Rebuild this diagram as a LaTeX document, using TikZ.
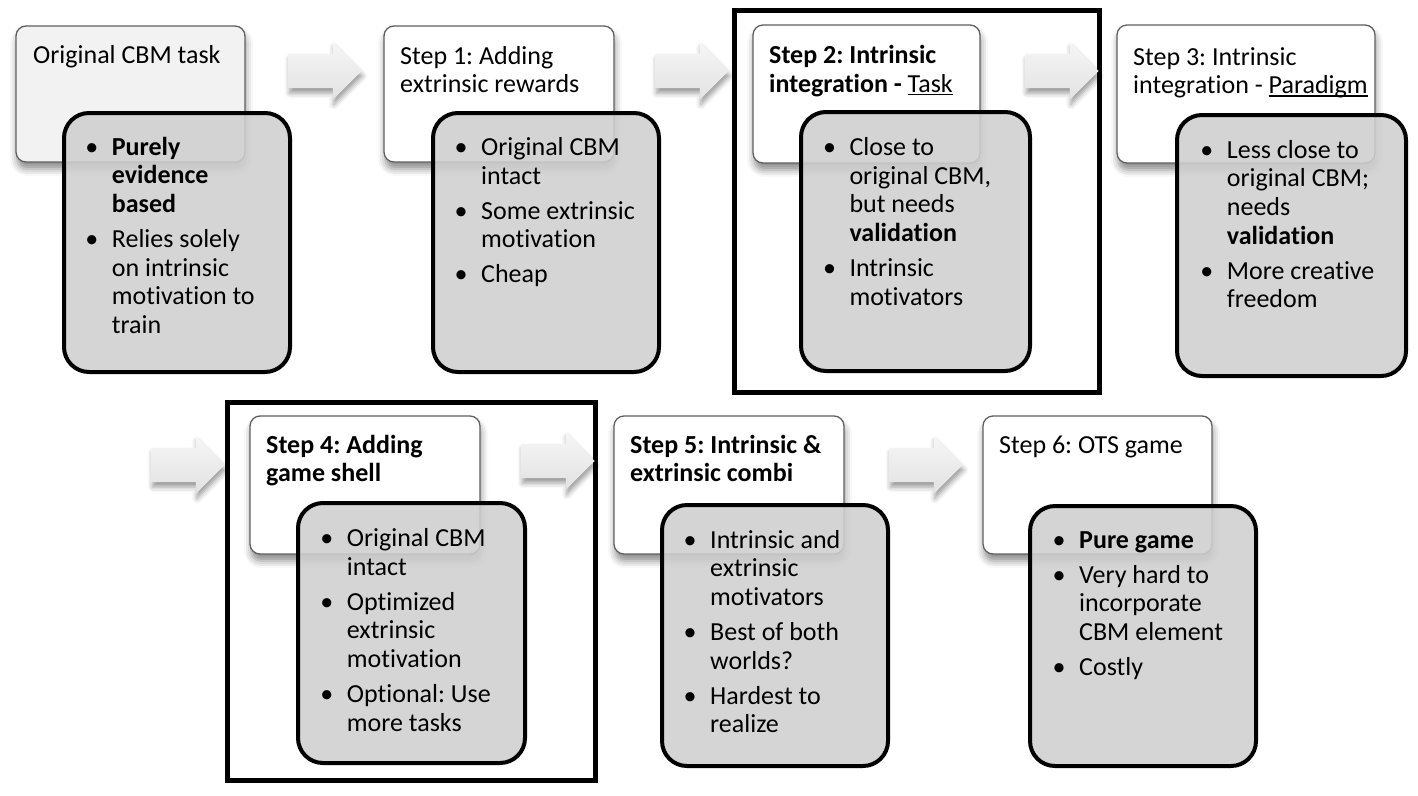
\documentclass[tikz,border=0pt]{standalone}
\usepackage{fontspec}
\setmainfont{Carlito}[Ligatures=NoCommon]
\usetikzlibrary{shapes.arrows,shadows.blur}
\definecolor{boxgray}{RGB}{207,207,207}
\definecolor{cardline}{RGB}{95,95,95}
\definecolor{cardfillA}{RGB}{242,242,242}
\definecolor{arrtop}{RGB}{246,246,246}
\definecolor{arrbot}{RGB}{226,226,226}
\newcommand\bul{\llap{\makebox[40pt][c]{•}}}
\newcommand\myul[1]{\setbox0\hbox{#1}\rlap{\rule[-3pt]{\wd0}{1.3pt}}\box0}
\frenchspacing
\begin{document}
\begin{tikzpicture}[x=1pt,y=-1pt,
  every node/.style={font=\fontsize{26}{28.7}\selectfont},
  card/.style={draw=cardline, line width=1.3pt, rounded corners=10pt, fill=white, inner sep=0pt,
    blur shadow={shadow xshift=1pt, shadow yshift=-7pt, shadow blur radius=7pt, shadow opacity=45}},
  graybox/.style={draw=black, line width=4pt, rounded corners=25pt, fill=boxgray, fill opacity=0.88, inner sep=0pt},
  frame/.style={draw=black, line width=5pt, inner sep=0pt},
  blockarrow/.style={single arrow, single arrow head extend=11.5pt, minimum height=73pt,
    inner xsep=0pt, inner ysep=17pt, text height=0pt, text depth=0pt, draw=none,
    top color=arrtop, bottom color=arrbot,
    blur shadow={shadow xshift=1pt, shadow yshift=-5pt, shadow blur radius=5pt, shadow opacity=40}},
  txt/.style={anchor=base west, inner sep=0pt},
]
\useasboundingbox (0,0) rectangle (1418,795);

% highlight frames
\node[frame, minimum width=365pt, minimum height=382pt] (f1) at (917,201.5) {};
\node[frame, minimum width=368.5pt, minimum height=378pt] (f2) at (411.25,591.5) {};

% block arrows
\node[blockarrow] (a1) at (316.5,71) {};
\node[blockarrow] (a2) at (683.5,71) {};
\node[blockarrow] (a3) at (1053.5,71) {};
\node[blockarrow] (a4) at (179.5,465) {};
\node[blockarrow] (a5) at (549.5,461) {};
\node[blockarrow] (a6) at (917.5,465) {};

% cards
\node[card, fill=cardfillA, minimum width=229pt, minimum height=136pt] (c0) at (130.5,94) {};
\node[card, minimum width=230pt, minimum height=136pt] (c1) at (499,94) {};
\node[card, minimum width=227pt, minimum height=138pt] (c2) at (866.5,94) {};
\node[card, minimum width=258pt, minimum height=138pt] (c3) at (1246,94) {};
\node[card, minimum width=230pt, minimum height=138pt] (c4) at (365,485) {};
\node[card, minimum width=230pt, minimum height=138pt] (c5) at (729,485) {};
\node[card, minimum width=229pt, minimum height=138pt] (c6) at (1097.5,485) {};

% card titles
\node[txt] (t0) at (33,63) {\begin{tabular}[t]{@{}l@{}}Original CBM task\end{tabular}};
\node[txt] (t1) at (400,64) {\begin{tabular}[t]{@{}l@{}}Step 1: Adding\\extrinsic rewards\end{tabular}};
\node[txt] (t2) at (769,63.5) {\begin{tabular}[t]{@{}l@{}}\textbf{Step 2: Intrinsic}\\\textbf{integration -} \myul{Task}\end{tabular}};
\node[txt] (t3) at (1133,65) {\begin{tabular}[t]{@{}l@{}}Step 3: Intrinsic\\integration - \myul{Paradigm}\end{tabular}};
\node[txt] (t4) at (266,453) {\begin{tabular}[t]{@{}l@{}}\textbf{Step 4: Adding}\\\textbf{game shell}\end{tabular}};
\node[txt] (t5) at (630,453) {\begin{tabular}[t]{@{}l@{}}\textbf{Step 5: Intrinsic \&}\\\textbf{extrinsic combi}\end{tabular}};
\node[txt] (t6) at (999,453) {\begin{tabular}[t]{@{}l@{}}Step 6: OTS game\end{tabular}};

% gray boxes
\node[graybox, minimum width=226pt, minimum height=259pt] (g0) at (177,242.5) {};
\node[graybox, minimum width=226pt, minimum height=259pt] (g1) at (546,242.5) {};
\node[graybox, minimum width=229pt, minimum height=259pt] (g2) at (915.5,241.5) {};
\node[graybox, minimum width=229pt, minimum height=261pt] (g3) at (1291.5,245.5) {};
\node[graybox, minimum width=227pt, minimum height=260pt] (g4) at (411.5,633) {};
\node[graybox, minimum width=226pt, minimum height=261pt] (g5) at (775,635.5) {};
\node[graybox, minimum width=226pt, minimum height=260pt] (g6) at (1143,636) {};

% bullet lists
\node[txt] (l0) at (111.7,155) {\begin{tabular}[t]{@{}l@{}}\bul\textbf{Purely}\\\textbf{evidence}\\\textbf{based}\\[6.3pt]\bul Relies solely\\on intrinsic\\motivation to\\train\end{tabular}};
\node[txt] (l1) at (481,155.5) {\begin{tabular}[t]{@{}l@{}}\bul Original CBM\\intact\\[6.3pt]\bul Some extrinsic\\motivation\\[6.3pt]\bul Cheap\end{tabular}};
\node[txt] (l2) at (849.3,155.5) {\begin{tabular}[t]{@{}l@{}}\bul Close to\\original CBM,\\but needs\\\textbf{validation}\\[6.3pt]\bul Intrinsic\\motivators\end{tabular}};
\node[txt] (l3) at (1226.7,158) {\begin{tabular}[t]{@{}l@{}}\bul Less close to\\original CBM;\\needs\\\textbf{validation}\\[6.3pt]\bul More creative\\freedom\end{tabular}};
\node[txt] (l4) at (346.7,546.5) {\begin{tabular}[t]{@{}l@{}}\bul Original CBM\\intact\\[6.3pt]\bul Optimized\\extrinsic\\motivation\\[6.3pt]\bul Optional: Use\\more tasks\end{tabular}};
\node[txt] (l5) at (710,548) {\begin{tabular}[t]{@{}l@{}}\bul Intrinsic and\\extrinsic\\motivators\\[6.3pt]\bul Best of both\\worlds?\\[6.3pt]\bul Hardest to\\realize\end{tabular}};
\node[txt] (l6) at (1079,548) {\begin{tabular}[t]{@{}l@{}}\bul\textbf{Pure game}\\[6.3pt]\bul Very hard to\\incorporate\\CBM element\\[6.3pt]\bul Costly\end{tabular}};
\end{tikzpicture}
\end{document}
